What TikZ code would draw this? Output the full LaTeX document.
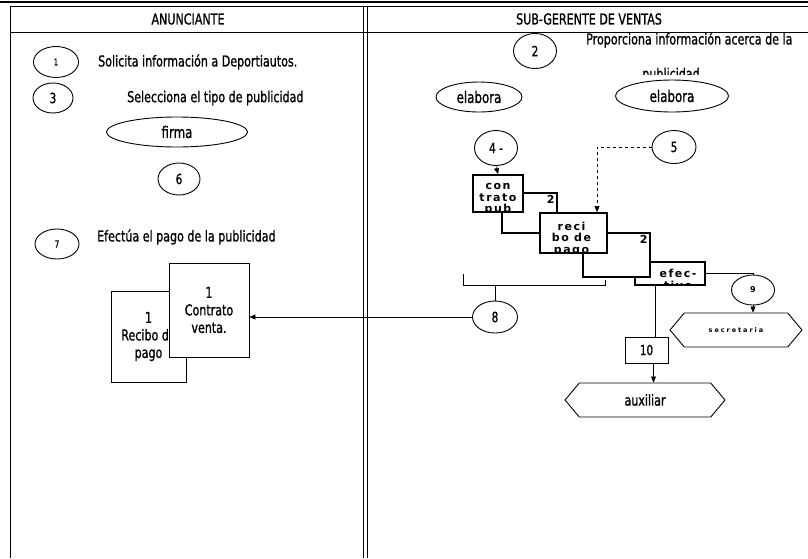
\documentclass[tikz,border=0pt]{standalone}
\usepackage{fontspec}
\setmainfont{DejaVu Sans}[FakeStretch=0.74, FakeBold=1]
\newfontfamily\docfont{DejaVu Sans}[LetterSpace=14]
\newfontfamily\secfont{DejaVu Sans}[LetterSpace=30]
\usetikzlibrary{shapes.geometric,shapes.symbols,arrows.meta,calc}

\tikzset{
  paso/.style={ellipse, draw, line width=0.9pt, minimum width=44pt, minimum height=32pt, inner sep=0pt, font=\fontsize{14}{14}\selectfont},
  accion/.style={ellipse, draw, line width=0.9pt, minimum height=30pt, inner sep=0pt, font=\fontsize{16}{16}\selectfont},
  nota/.style={anchor=west, inner sep=0pt, font=\fontsize{15}{15}\selectfont},
  hoja/.style={rectangle, draw, line width=0.8pt, fill=white, align=center, font=\fontsize{15}{17.5}\selectfont},
  doctext/.style={anchor=north, align=center, inner sep=0pt, font=\docfont\bfseries\fontsize{11}{11.5}\selectfont},
  copia/.style={rectangle, draw, line width=1.4pt, fill=white,
    label={[anchor=north east, inner sep=3pt, font=\docfont\bfseries\fontsize{11}{11}\selectfont]north east:2}},
  doc/.style 2 args={rectangle, draw, line width=1.8pt, fill=white,
    path picture={
      \node[doctext] at ([shift={(#1,-5pt)}]path picture bounding box.north) {#2};
      \fill (path picture bounding box.south east) -- ++(-7pt,0pt) -- ++(7pt,7pt) -- cycle;
    }},
  destino/.style={signal, signal to=east and west, signal pointer angle=100, draw, line width=0.9pt, minimum height=34pt, inner sep=0pt},
  flecha/.style={-{Triangle[length=6pt,width=5pt]}},
}

\begin{document}
\begin{tikzpicture}[x=1pt,y=-1pt]
\useasboundingbox (0,0) rectangle (808,558);

\draw[line width=1.5pt] (0,2) -- (808,2);
\draw[line width=1pt] (10,6) -- (808,6);
\draw[line width=1pt] (10,32) -- (808,32);
\draw[line width=1pt] (10,6) -- (10,558);
\draw[line width=0.8pt] (363,6) -- (363,558);
\draw[line width=0.8pt] (367,6) -- (367,558);

\node[font=\fontsize{15}{15}\selectfont] (anun) at (188,19) {ANUNCIANTE};
\node[font=\fontsize{15}{15}\selectfont] (sub) at (589,19) {SUB-GERENTE DE VENTAS};

% anunciante
\node[paso, minimum width=45pt, minimum height=31pt, font=\fontsize{9}{9}\selectfont] (p1) at (56,62) {1};
\node[nota] (t1) at (98,62) {Solicita información a Deportiautos.};
\node[paso, minimum width=40pt, minimum height=30pt] (p3) at (53,98) {3};
\node[nota] (t3) at (127,98) {Selecciona el tipo de publicidad};
\node[accion, minimum width=141pt] (firma) at (177,132) {firma};
\node[paso, minimum width=42pt] (p6) at (179,179) {6};
\node[paso, minimum height=30pt, font=\fontsize{10}{10}\selectfont] (p7) at (57,244) {7};
\node[nota] (t7) at (97,237) {Efectúa el pago de la publicidad};
\node[hoja, minimum width=75pt, minimum height=91pt] (recibo) at (148.5,336.5) {1\\Recibo de\\pago};
\node[hoja, minimum width=80pt, minimum height=94pt] (contrato) at (209,310) {1\\Contrato\\venta.};

% sub-gerente
\node[paso, minimum width=43pt, minimum height=35pt] (p2) at (535,51) {2};
\node[nota] (t2) at (586,40) {Proporciona información acerca de la};
\begin{scope}
\clip (580,55) rectangle (800,74);
\node[font=\fontsize{15}{15}\selectfont] (t2b) at (671,75) {publicidad};
\end{scope}
\node[accion, minimum width=86pt] (elab1) at (479,97) {elabora};
\node[accion, minimum width=113pt, minimum height=32pt] (elab2) at (672,96) {elabora};
\node[paso, minimum width=43pt, minimum height=35pt] (p4) at (496,148) {4 -};
\node[paso, minimum height=33pt] (p5) at (674,147) {5};

\node[doc={8pt}{efec-\\tivo}, minimum width=70pt, minimum height=23pt] (docC) at (670,273.5) {};
\node[copia, minimum width=67pt, minimum height=44pt] (copiaB) at (616.5,255) {};
\node[copia, minimum width=55pt, minimum height=40pt] (copiaA) at (529.5,213) {};
\node[doc={-2pt}{reci\\bo de\\pago}, minimum width=67pt, minimum height=40pt] (docB) at (573.5,233) {};
\node[doc={0pt}{con\\trato\\pub}, minimum width=50pt, minimum height=37pt] (docA) at (498,193.5) {};

\draw[flecha] (p4.south) -- (docA.north);
\draw[dashed, flecha] (p5.west) -| ([xshift=23.5pt]docB.north);

\node[paso, minimum width=45pt] (p8) at (495,317) {8};
\coordinate (brL) at (463,285);
\coordinate (brR) at (605,285);
\draw (463,274) -- (brL) -- (brR) -- (605,280);
\draw (p8.north) -- (p8.north |- brL);
\draw[flecha] (p8.west) -- (p8.west -| contrato.east);

\node[paso, minimum width=43pt, minimum height=30pt, font=\docfont\bfseries\fontsize{8}{8}\selectfont] (p9) at (753,290) {9};
\node[destino, minimum width=132pt, font=\secfont\bfseries\fontsize{6.5}{6.5}\selectfont] (secre) at (736,330) {secretaria};
\draw (docC.east) -| (p9.north);
\draw[flecha] (p9.south) -- (p9.south |- secre.north);

\node[rectangle, draw, line width=0.9pt, minimum width=43pt, minimum height=26pt, font=\fontsize{14}{14}\selectfont] (diez) at (646.5,350) {10};
\node[destino, minimum width=160pt, font=\fontsize{15}{15}\selectfont] (aux) at (645,400) {auxiliar};
\draw ([xshift=8.5pt]diez.north) -- ([xshift=8.5pt]diez.north |- docC.south);
\draw[flecha] ([xshift=7pt]diez.south) -- ([xshift=7pt]diez.south |- aux.north);
\end{tikzpicture}
\end{document}
